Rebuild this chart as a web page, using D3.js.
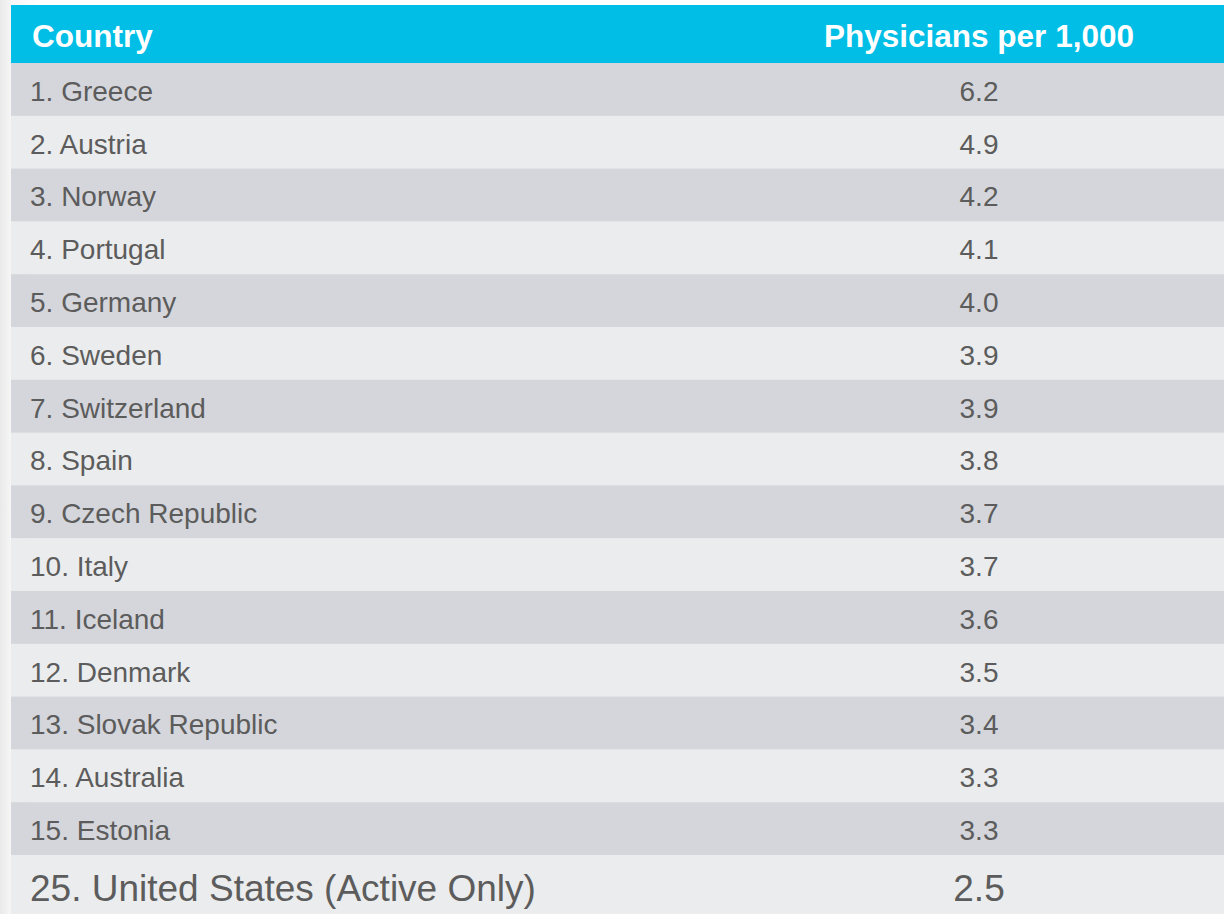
<!DOCTYPE html>
<html>
<head>
<meta charset="utf-8">
<script src="https://cdn.jsdelivr.net/npm/d3@7"></script>
<style>
  html, body { margin: 0; padding: 0; }
  body { width: 1224px; height: 914px; overflow: hidden;
         background: linear-gradient(90deg, #e9e9e9 0px, #f7f7f7 12px, #ffffff 40px); }
  text { font-family: "Liberation Sans", Arial, sans-serif; }
</style>
</head>
<body>
<div id="table-div"></div>
<script>
// header labels
const headers = ["Country", "Physicians per 1,000"];

// top 15 countries
const countries = ["1. Greece", "2. Austria", "3. Norway", "4. Portugal", "5. Germany",
    "6. Sweden", "7. Switzerland", "8. Spain", "9. Czech Republic", "10. Italy",
    "11. Iceland", "12. Denmark", "13. Slovak Republic", "14. Australia", "15. Estonia"];
const values = ["6.2", "4.9", "4.2", "4.1", "4.0", "3.9", "3.9", "3.8", "3.7", "3.7",
    "3.6", "3.5", "3.4", "3.3", "3.3"];

// extra row at the bottom
const usLabel = "25. United States (Active Only)";
const usValue = "2.5";

const WIDTH = 1224;
const HEIGHT = 914;
const TABLE_LEFT = 11;
const HEADER_TOP = 5;
const HEADER_HEIGHT = 58;
const ROW_HEIGHT = 52.8;
const TEXT_X = 30;
const VALUE_X = 979;
const TEXT_COLOR = "#5c5c5c";

let svg = d3.select("#table-div")
    .append("svg")
    .attr("width", WIDTH)
    .attr("height", HEIGHT);

// header bar
svg.append("rect")
    .attr("x", TABLE_LEFT)
    .attr("y", HEADER_TOP)
    .attr("width", WIDTH - TABLE_LEFT)
    .attr("height", HEADER_HEIGHT)
    .attr("fill", "#00bee6");

let headerX = d3.scaleOrdinal().domain(headers).range([TEXT_X + 2, VALUE_X]);
svg.selectAll(".header-text")
    .data(headers)
    .enter()
    .append("text")
    .classed("header-text", true)
    .attr("x", d => headerX(d))
    .attr("y", HEADER_TOP + 42)
    .attr("text-anchor", (d, i) => i === 0 ? "start" : "middle")
    .attr("font-size", "31.5px")
    .attr("font-weight", "bold")
    .attr("fill", "#ffffff")
    .text(d => d);

// rows
let tableTop = HEADER_TOP + HEADER_HEIGHT;
let yScale = d3.scaleBand()
    .domain(countries)
    .range([tableTop, tableTop + ROW_HEIGHT * countries.length]);

let rows = svg.append("g")
    .selectAll("g")
    .data(countries)
    .enter()
    .append("g")
    .attr("transform", d => "translate(0," + yScale(d) + ")");

rows.append("rect")
    .attr("x", TABLE_LEFT)
    .attr("y", 0)
    .attr("width", WIDTH - TABLE_LEFT)
    .attr("height", yScale.bandwidth() + 0.5)
    .attr("fill", (d, i) => i % 2 === 0 ? "#d5d6db" : "#ebeced");

rows.append("text")
    .attr("x", TEXT_X)
    .attr("y", yScale.bandwidth() / 2 + 11.5)
    .attr("font-size", "28px")
    .attr("fill", TEXT_COLOR)
    .text(d => d);

rows.append("text")
    .attr("x", VALUE_X)
    .attr("y", yScale.bandwidth() / 2 + 11.5)
    .attr("text-anchor", "middle")
    .attr("font-size", "28px")
    .attr("fill", TEXT_COLOR)
    .text((d, i) => values[i]);

// United States row, larger text
let usTop = yScale.range()[1];
svg.append("rect")
    .attr("x", TABLE_LEFT)
    .attr("y", usTop)
    .attr("width", WIDTH - TABLE_LEFT)
    .attr("height", HEIGHT - usTop)
    .attr("fill", "#ebeced");

svg.append("text")
    .attr("x", TEXT_X)
    .attr("y", 901)
    .attr("font-size", "37px")
    .attr("fill", TEXT_COLOR)
    .text(usLabel);

svg.append("text")
    .attr("x", VALUE_X)
    .attr("y", 901)
    .attr("text-anchor", "middle")
    .attr("font-size", "37px")
    .attr("fill", TEXT_COLOR)
    .text(usValue);
</script>
</body>
</html>
